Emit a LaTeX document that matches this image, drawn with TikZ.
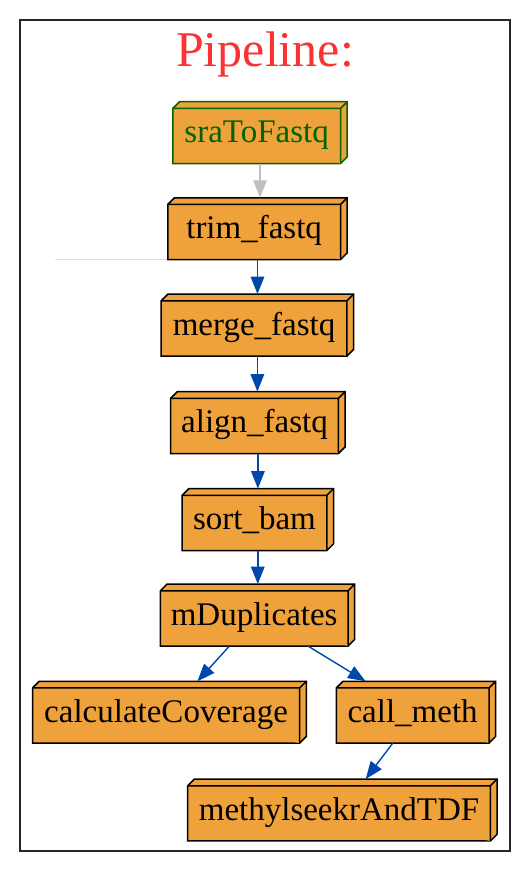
\documentclass[tikz,border=0pt]{standalone}
\usepackage{fontspec}
\setmainfont{Liberation Serif}
\usetikzlibrary{arrows.meta,calc}
\definecolor{boxfill}{RGB}{239,161,59}
\definecolor{edgeblue}{RGB}{0,71,171}
\definecolor{edgegray}{RGB}{192,192,192}
\definecolor{titlered}{RGB}{250,50,50}
\definecolor{nodegreen}{RGB}{0,100,0}
\def\dep{6.7pt}
\newcommand\boxthreed[2]{%
  \filldraw[boxline,draw=#2] (#1.south west) -- ([yshift=-\dep]#1.north west) -- ([xshift=\dep]#1.north west) -- (#1.north east) -- ([yshift=\dep]#1.south east) -- ([xshift=-\dep]#1.south east) -- cycle;
  \draw[boxline,draw=#2] ([yshift=-\dep]#1.north west) -- ([xshift=-\dep,yshift=-\dep]#1.north east) -- ([xshift=-\dep]#1.south east)
    ([xshift=-\dep,yshift=-\dep]#1.north east) -- (#1.north east);
}
\tikzset{
  outer/.style={draw=none, inner sep=0pt, minimum height=61.5pt},
  boxline/.style={fill=boxfill, line width=1.5pt, line join=miter},
  lbl/.style={anchor=base, inner sep=0pt, font=\fontsize{33}{39}\selectfont},
  edgeb/.style={draw=edgeblue, line width=1.4pt, -{Triangle[length=17.5pt,width=13.5pt]}},
  edgeg/.style={draw=edgegray, line width=1.4pt, -{Triangle[length=17.5pt,width=13.5pt]}},
}
\begin{document}
\begin{tikzpicture}[x=1pt,y=-1pt]
\useasboundingbox (0,0) rectangle (530,872);
\draw[line width=2.2pt, draw=black!85] (20,20) rectangle (510,851);
\node[anchor=base, inner sep=0pt, text=titlered, font=\fontsize{50}{60}\selectfont] (title) at (265,67) {Pipeline:};

\node[outer, minimum width=174pt] (sra) at (260,132.7) {};
\node[outer, minimum width=179pt] (trim) at (257.5,228.7) {};
\node[outer, minimum width=192pt] (merge) at (257.4,325.1) {};
\node[outer, minimum width=174pt] (align) at (257.9,422.6) {};
\node[outer, minimum width=151pt] (sort) at (257.8,519.6) {};
\node[outer, minimum width=194pt] (mdup) at (257.5,615.1) {};
\node[outer, minimum width=273.4pt] (calc) at (169.4,712.2) {};
\node[outer, minimum width=159pt] (call) at (416,712.2) {};
\node[outer, minimum width=309pt] (methyl) at (342.4,810) {};

\draw[draw=black!13, line width=0.8pt] (55,259.5) -- (trim.south west);

\boxthreed{sra}{nodegreen}
\boxthreed{trim}{black}
\boxthreed{merge}{black}
\boxthreed{align}{black}
\boxthreed{sort}{black}
\boxthreed{mdup}{black}
\boxthreed{calc}{black}
\boxthreed{call}{black}
\boxthreed{methyl}{black}

\tikzset{lblshift/.style={xshift=-3.35pt,yshift=-10pt}}
\node[lbl, text=nodegreen] at ([lblshift]sra.center) {sraToFastq};
\node[lbl] at ([lblshift]trim.center) {trim\_fastq};
\node[lbl] at ([lblshift]merge.center) {merge\_fastq};
\node[lbl] at ([lblshift]align.center) {align\_fastq};
\node[lbl] at ([lblshift]sort.center) {sort\_bam};
\node[lbl] at ([lblshift]mdup.center) {mDuplicates};
\node[lbl] at ([lblshift]calc.center) {calculateCoverage};
\node[lbl] at ([lblshift]call.center) {call\_meth};
\node[lbl] at ([lblshift]methyl.center) {methylseekrAndTDF};

\draw[edgeg] (sra.south) -- (sra.south |- trim.north);
\draw[edgeb] (trim.south) -- (trim.south |- merge.north);
\draw[edgeb] (merge.south) -- (merge.south |- align.north);
\draw[edgeb] (align.south) -- (align.south |- sort.north);
\draw[edgeb] (sort.south) -- (sort.south |- mdup.north);
\draw[edgeb] (mdup) -- (calc);
\draw[edgeb] (mdup) -- (call);
\draw[edgeb] (call) -- (methyl);
\end{tikzpicture}
\end{document}
